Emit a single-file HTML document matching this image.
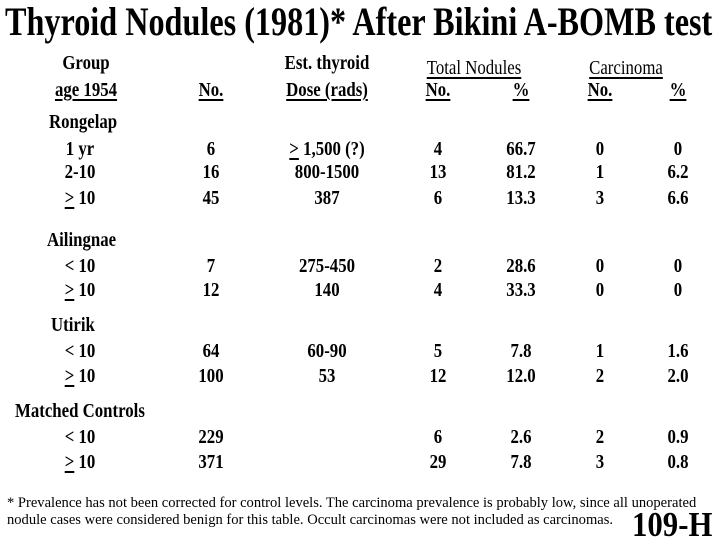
<!DOCTYPE html>
<html><head><meta charset="utf-8"><style>
body{margin:0;background:#fff}
#p{position:relative;width:720px;height:540px;overflow:hidden;background:#fff;font-family:"Liberation Serif",serif;color:#000}
.t{position:absolute;white-space:nowrap;line-height:20px;font-size:20px;font-weight:bold}
.c{transform:translateX(-50%) scaleX(.84)}
.l{transform-origin:0 50%;transform:scaleX(.84)}
.n{font-weight:normal}
u{text-decoration:underline;text-underline-offset:3px}
</style></head><body><div id="p">
<div class="t l" style="left:5px;top:2px;font-size:40px;line-height:40px;transform:scaleX(.805)">Thyroid Nodules (1981)* After Bikini A-BOMB test</div>

<div class="t c" style="left:86px;top:53px">Group</div>
<div class="t c" style="left:327px;top:53px">Est. thyroid</div>
<div class="t c n" style="left:474px;top:58px"><u>Total Nodules</u></div>
<div class="t c n" style="left:626px;top:58px"><u>Carcinoma</u></div>

<div class="t c" style="left:86px;top:80px"><u>age 1954</u></div>
<div class="t c" style="left:211px;top:80px"><u>No.</u></div>
<div class="t c" style="left:327px;top:80px"><u>Dose (rads)</u></div>
<div class="t c" style="left:438px;top:80px"><u>No.</u></div>
<div class="t c" style="left:521px;top:80px"><u>%</u></div>
<div class="t c" style="left:600px;top:80px"><u>No.</u></div>
<div class="t c" style="left:678px;top:80px"><u>%</u></div>

<div class="t l" style="left:49px;top:112px">Rongelap</div>
<div class="t l" style="left:15px;top:401px;">Matched Controls</div>
<div class="t l" style="left:47px;top:230px">Ailingnae</div>
<div class="t l" style="left:51px;top:315px">Utirik</div>

<div class="t c" style="left:80px;top:139px">1 yr</div><div class="t c" style="left:211px;top:139px">6</div><div class="t c" style="left:327px;top:139px"><u>&gt;</u> 1,500 (?)</div><div class="t c" style="left:438px;top:139px">4</div><div class="t c" style="left:521px;top:139px">66.7</div><div class="t c" style="left:600px;top:139px">0</div><div class="t c" style="left:678px;top:139px">0</div>
<div class="t c" style="left:80px;top:162px">2-10</div><div class="t c" style="left:211px;top:162px">16</div><div class="t c" style="left:327px;top:162px">800-1500</div><div class="t c" style="left:438px;top:162px">13</div><div class="t c" style="left:521px;top:162px">81.2</div><div class="t c" style="left:600px;top:162px">1</div><div class="t c" style="left:678px;top:162px">6.2</div>
<div class="t c" style="left:80px;top:188px"><u>&gt;</u> 10</div><div class="t c" style="left:211px;top:188px">45</div><div class="t c" style="left:327px;top:188px">387</div><div class="t c" style="left:438px;top:188px">6</div><div class="t c" style="left:521px;top:188px">13.3</div><div class="t c" style="left:600px;top:188px">3</div><div class="t c" style="left:678px;top:188px">6.6</div>

<div class="t c" style="left:80px;top:256px">&lt; 10</div><div class="t c" style="left:211px;top:256px">7</div><div class="t c" style="left:327px;top:256px">275-450</div><div class="t c" style="left:438px;top:256px">2</div><div class="t c" style="left:521px;top:256px">28.6</div><div class="t c" style="left:600px;top:256px">0</div><div class="t c" style="left:678px;top:256px">0</div>
<div class="t c" style="left:80px;top:280px"><u>&gt;</u> 10</div><div class="t c" style="left:211px;top:280px">12</div><div class="t c" style="left:327px;top:280px">140</div><div class="t c" style="left:438px;top:280px">4</div><div class="t c" style="left:521px;top:280px">33.3</div><div class="t c" style="left:600px;top:280px">0</div><div class="t c" style="left:678px;top:280px">0</div>

<div class="t c" style="left:80px;top:341px">&lt; 10</div><div class="t c" style="left:211px;top:341px">64</div><div class="t c" style="left:327px;top:341px">60-90</div><div class="t c" style="left:438px;top:341px">5</div><div class="t c" style="left:521px;top:341px">7.8</div><div class="t c" style="left:600px;top:341px">1</div><div class="t c" style="left:678px;top:341px">1.6</div>
<div class="t c" style="left:80px;top:366px"><u>&gt;</u> 10</div><div class="t c" style="left:211px;top:366px">100</div><div class="t c" style="left:327px;top:366px">53</div><div class="t c" style="left:438px;top:366px">12</div><div class="t c" style="left:521px;top:366px">12.0</div><div class="t c" style="left:600px;top:366px">2</div><div class="t c" style="left:678px;top:366px">2.0</div>

<div class="t c" style="left:80px;top:427px">&lt; 10</div><div class="t c" style="left:211px;top:427px">229</div><div class="t c" style="left:438px;top:427px">6</div><div class="t c" style="left:521px;top:427px">2.6</div><div class="t c" style="left:600px;top:427px">2</div><div class="t c" style="left:678px;top:427px">0.9</div>
<div class="t c" style="left:80px;top:452px"><u>&gt;</u> 10</div><div class="t c" style="left:211px;top:452px">371</div><div class="t c" style="left:438px;top:452px">29</div><div class="t c" style="left:521px;top:452px">7.8</div><div class="t c" style="left:600px;top:452px">3</div><div class="t c" style="left:678px;top:452px">0.8</div>

<div class="t l n" style="left:7px;top:494px;font-size:15px;line-height:18px;transform:scaleX(.97)">* Prevalence has not been corrected for control levels. The carcinoma prevalence is probably low, since all unoperated</div>
<div class="t l n" style="left:7px;top:511px;font-size:15px;line-height:18px;transform:scaleX(.97)">nodule cases were considered benign for this table. Occult carcinomas were not included as carcinomas.</div>
<div class="t l" style="left:632px;top:507px;font-size:35px;line-height:36px;transform:scaleX(.88)">109-H</div>
</div></body></html>
